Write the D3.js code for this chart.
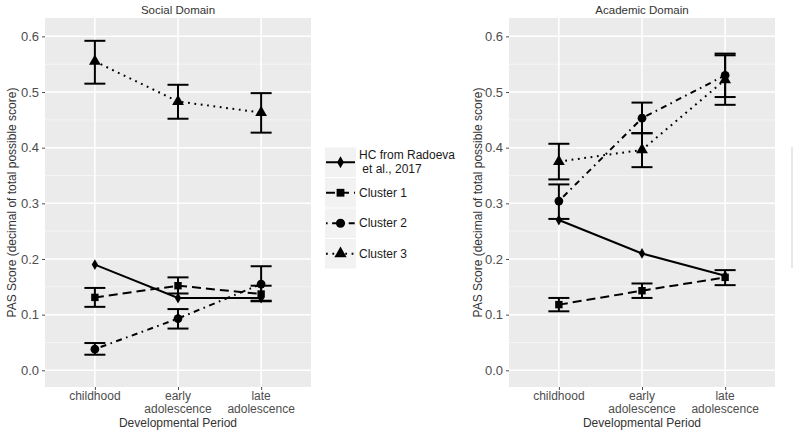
<!DOCTYPE html>
<html><head><meta charset="utf-8">
<script src="https://cdn.jsdelivr.net/npm/d3@7"></script>
<style>body{margin:0;background:#fff}svg{display:block}text{font-family:"Liberation Sans",Arial,sans-serif}</style>
</head><body><svg id="c" width="800" height="435"></svg>
<script>
const categories = ["childhood", "early adolescence", "late adolescence"];
const tickLabels = [["childhood"], ["early", "adolescence"], ["late", "adolescence"]];
const yTicks = [0.0, 0.1, 0.2, 0.3, 0.4, 0.5, 0.6];
const yMinor = [0.05, 0.15, 0.25, 0.35, 0.45, 0.55];
const seriesNames = ["HC from Radoeva\n et al., 2017", "Cluster 1", "Cluster 2", "Cluster 3"];
const panelTitles = ["Social Domain", "Academic Domain"];

// Social domain
const socialHC = [0.190, 0.130, 0.130];
const socialC1 = [0.131, 0.152, 0.137];
const socialC1Lo = [0.114, 0.138, 0.125];
const socialC1Hi = [0.148, 0.167, 0.152];
const socialC2 = [0.038, 0.093, 0.155];
const socialC2Lo = [0.028, 0.075, 0.124];
const socialC2Hi = [0.049, 0.110, 0.187];
const socialC3 = [0.555, 0.483, 0.463];
const socialC3Lo = [0.515, 0.452, 0.427];
const socialC3Hi = [0.592, 0.513, 0.498];

// Academic domain
const acadHC = [0.270, 0.210, 0.170];
const acadC1 = [0.118, 0.143, 0.167];
const acadC1Lo = [0.106, 0.130, 0.153];
const acadC1Hi = [0.130, 0.156, 0.180];
const acadC2 = [0.304, 0.453, 0.530];
const acadC2Lo = [0.272, 0.426, 0.491];
const acadC2Hi = [0.334, 0.481, 0.569];
const acadC3 = [0.375, 0.396, 0.522];
const acadC3Lo = [0.343, 0.365, 0.477];
const acadC3Hi = [0.407, 0.426, 0.566];

const styles = [
  {dash: null, sym: d3.symbolDiamond, size: 34, w: 2},
  {dash: "9,5", sym: d3.symbolSquare, size: 55, w: 2},
  {dash: "1.6,4.5,6,4.5", sym: d3.symbolCircle, size: 60, w: 2},
  {dash: "1.8,4.6", sym: d3.symbolTriangle, size: 60, w: 2}
];

const panels = [
  {title: panelTitles[0], x0: 45, x1: 311, labelX: 12,
   series: [{v: socialHC}, {v: socialC1, lo: socialC1Lo, hi: socialC1Hi}, {v: socialC2, lo: socialC2Lo, hi: socialC2Hi}, {v: socialC3, lo: socialC3Lo, hi: socialC3Hi}]},
  {title: panelTitles[1], x0: 509, x1: 775, labelX: 478,
   series: [{v: acadHC}, {v: acadC1, lo: acadC1Lo, hi: acadC1Hi}, {v: acadC2, lo: acadC2Lo, hi: acadC2Hi}, {v: acadC3, lo: acadC3Lo, hi: acadC3Hi}]}
];

const svg = d3.select("#c");
const y = d3.scaleLinear().domain([-0.03, 0.633]).range([387, 18]);
const pTop = 18, pBottom = 387;

panels.forEach(p => {
  const x = d3.scalePoint().domain(categories).range([p.x0, p.x1]).padding(0.6);
  const g = svg.append("g");
  g.append("rect").attr("x", p.x0).attr("y", pTop).attr("width", p.x1 - p.x0).attr("height", pBottom - pTop).attr("fill", "#ebebeb");
  g.selectAll(".mn").data(yMinor).join("line").attr("x1", p.x0).attr("x2", p.x1)
    .attr("y1", d => y(d)).attr("y2", d => y(d)).attr("stroke", "#f7f7f7").attr("stroke-width", 0.8);
  g.selectAll(".mj").data(yTicks).join("line").attr("x1", p.x0).attr("x2", p.x1)
    .attr("y1", d => y(d)).attr("y2", d => y(d)).attr("stroke", "#fff").attr("stroke-width", 1.5);
  g.selectAll(".vx").data(categories).join("line").attr("x1", d => x(d)).attr("x2", d => x(d))
    .attr("y1", pTop).attr("y2", pBottom).attr("stroke", "#fff").attr("stroke-width", 1.5);

  // y axis
  const ya = d3.axisLeft(y).tickValues(yTicks).tickFormat(d3.format(".1f")).tickSize(3).tickPadding(3);
  const yg = g.append("g").attr("transform", `translate(${p.x0},0)`).call(ya);
  yg.select(".domain").remove();
  yg.selectAll("line").attr("stroke", "#4d4d4d");
  yg.selectAll("text").attr("fill", "#4d4d4d").style("font-size", "13px").style("font-family", '"Liberation Sans",Arial,sans-serif');

  // x axis
  const xa = d3.axisBottom(x).tickSize(3).tickFormat("");
  const xg = g.append("g").attr("transform", `translate(0,${pBottom})`).call(xa);
  xg.select(".domain").remove();
  xg.selectAll("line").attr("stroke", "#4d4d4d");
  categories.forEach((c, i) => {
    const t = g.append("text").attr("x", x(c)).attr("y", 400).attr("text-anchor", "middle")
      .attr("fill", "#4d4d4d").style("font-size", "12px");
    tickLabels[i].forEach((l, j) => t.append("tspan").attr("x", x(c)).attr("dy", j ? 13 : 0).text(l));
  });
  g.append("text").attr("x", (p.x0 + p.x1) / 2).attr("y", 426.5).attr("text-anchor", "middle")
    .style("font-size", "12px").attr("fill", "#333").text("Developmental Period");
  g.append("text").attr("transform", `translate(${p.labelX + 4},${(pTop + pBottom) / 2}) rotate(-90)`)
    .attr("text-anchor", "middle").style("font-size", "12px").attr("fill", "#333")
    .text("PAS Score (decimal of total possible score)");
  g.append("text").attr("x", (p.x0 + p.x1) / 2).attr("y", 14).attr("text-anchor", "middle")
    .style("font-size", "11.5px").attr("fill", "#333").text(p.title);

  // lines
  const line = d3.line().x((d, i) => x(categories[i])).y(d => y(d));
  p.series.forEach((s, k) => {
    g.append("path").attr("d", line(s.v)).attr("fill", "none").attr("stroke", "#000")
      .attr("stroke-width", styles[k].w).attr("stroke-dasharray", styles[k].dash);
  });
  // error bars
  p.series.forEach((s, k) => {
    if (!s.lo) return;
    s.v.forEach((v, i) => {
      const cx = x(categories[i]);
      g.append("line").attr("x1", cx).attr("x2", cx).attr("y1", y(s.lo[i])).attr("y2", y(s.hi[i])).attr("stroke", "#000").attr("stroke-width", 2);
      [s.lo[i], s.hi[i]].forEach(e => g.append("line").attr("x1", cx - 10.5).attr("x2", cx + 10.5)
        .attr("y1", y(e)).attr("y2", y(e)).attr("stroke", "#000").attr("stroke-width", 2));
    });
  });
  // points
  p.series.forEach((s, k) => {
    s.v.forEach((v, i) => {
      g.append("path").attr("d", d3.symbol().type(styles[k].sym).size(styles[k].size)())
        .attr("transform", `translate(${x(categories[i])},${y(v)})`).attr("fill", "#000");
    });
  });
});

// legend
const lg = svg.append("g");
const keyX = 325, keyW = 31, keyH = 30.5, key0 = 147;
seriesNames.forEach((n, k) => {
  const ky = key0 + k * keyH;
  const cy = ky + keyH / 2;
  lg.append("rect").attr("x", keyX).attr("y", ky + 0.5).attr("width", keyW).attr("height", keyH - 1).attr("fill", "#f2f2f2");
  lg.append("line").attr("x1", keyX + 1).attr("x2", keyX + keyW - 1).attr("y1", cy).attr("y2", cy)
    .attr("stroke", "#000").attr("stroke-width", styles[k].w).attr("stroke-dasharray", styles[k].dash);
  lg.append("path").attr("d", d3.symbol().type(styles[k].sym).size(styles[k].size + 6)())
    .attr("transform", `translate(${keyX + keyW / 2},${cy})`).attr("fill", "#000");
  const t = lg.append("text").attr("x", 359).attr("y", k === 0 ? cy - 3 : cy + 4).style("font-size", "12px").attr("fill", "#1a1a1a");
  n.split("\n").forEach((l, j) => t.append("tspan").attr("x", 359).attr("dy", j ? 14 : 0).attr("xml:space", "preserve").text(l));
});

// faint edge at the far right
svg.append("line").attr("x1", 792).attr("x2", 792).attr("y1", 147).attr("y2", 268).attr("stroke", "#e8e8e8").attr("stroke-width", 2);
</script></body></html>
